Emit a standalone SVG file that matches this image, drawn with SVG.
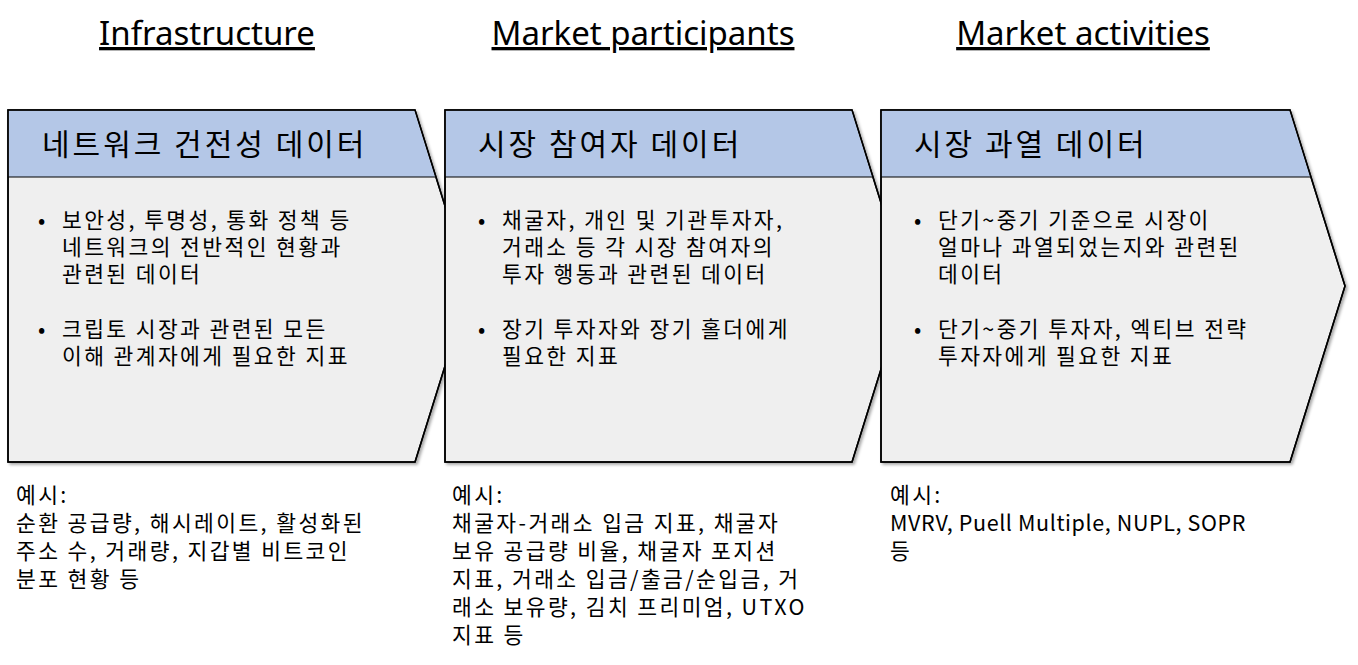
<svg xmlns="http://www.w3.org/2000/svg" width="1358" height="665" viewBox="0 0 1358 665">
<style>
.t{font-family:"Noto Sans CJK KR","Liberation Sans",sans-serif;fill:#000}
.title{font-size:33px;text-decoration:underline;text-anchor:middle;font-family:"Noto Sans","Noto Sans CJK KR",sans-serif}
.h{font-size:30px;letter-spacing:3px}
.b{font-size:21.5px;letter-spacing:2.4px}
.lat{letter-spacing:0.6px}
.body{fill:#efefef;stroke:#000;stroke-width:1.5}
.head{fill:#b4c7e7}
</style>
<defs><filter id="sh" x="-5%" y="-5%" width="115%" height="115%"><feDropShadow dx="2" dy="2" stdDeviation="1.5" flood-opacity="0.35"/></filter></defs>
<text class="t title" x="207" y="45">Infrastructure</text>
<text class="t title" x="643" y="45">Market participants</text>
<text class="t title" x="1083" y="45">Market activities</text>
<g id="n1">
<path class="body" filter="url(#sh)" d="M8,110H415L470,286L415,462H8Z"/>
<path class="head" d="M8.8,110.8H414.4L435,177H8.8Z"/>
<line x1="8" y1="177" x2="435" y2="177" stroke="#000" stroke-width="1"/>
<path d="M8,110H415L470,286L415,462H8Z" fill="none" stroke="#000" stroke-width="1.5"/>
<text class="t h" x="42" y="155">네트워크 건전성 데이터</text>
<g class="t b"><text x="38" y="228">•</text><text x="62" y="228">보안성, 투명성, 통화 정책 등</text><text x="62" y="255">네트워크의 전반적인 현황과</text><text x="62" y="282">관련된 데이터</text>
<text x="38" y="337">•</text><text x="62" y="337">크립토 시장과 관련된 모든</text><text x="62" y="364">이해 관계자에게 필요한 지표</text></g>
</g>
<g id="n2">
<path class="body" filter="url(#sh)" d="M445,110H852L907,286L852,462H445Z"/>
<path class="head" d="M445.8,110.8H851.4L872,177H445.8Z"/>
<line x1="445" y1="177" x2="872" y2="177" stroke="#000" stroke-width="1"/>
<path d="M445,110H852L907,286L852,462H445Z" fill="none" stroke="#000" stroke-width="1.5"/>
<text class="t h" x="478" y="155">시장 참여자 데이터</text>
<g class="t b"><text x="478" y="228">•</text><text x="502" y="228">채굴자, 개인 및 기관투자자,</text><text x="502" y="255">거래소 등 각 시장 참여자의</text><text x="502" y="282">투자 행동과 관련된 데이터</text>
<text x="478" y="337">•</text><text x="502" y="337">장기 투자자와 장기 홀더에게</text><text x="502" y="364">필요한 지표</text></g>
</g>
<g id="n3">
<path class="body" filter="url(#sh)" d="M881,110H1290L1345,286L1290,462H881Z"/>
<path class="head" d="M881.8,110.8H1289.4L1310,177H881.8Z"/>
<line x1="881" y1="177" x2="1310" y2="177" stroke="#000" stroke-width="1"/>
<path d="M881,110H1290L1345,286L1290,462H881Z" fill="none" stroke="#000" stroke-width="1.5"/>
<text class="t h" x="914" y="155">시장 과열 데이터</text>
<g class="t b"><text x="914" y="228">•</text><text x="938" y="228">단기~중기 기준으로 시장이</text><text x="938" y="255">얼마나 과열되었는지와 관련된</text><text x="938" y="282">데이터</text>
<text x="914" y="337">•</text><text x="938" y="337">단기~중기 투자자, 엑티브 전략</text><text x="938" y="364">투자자에게 필요한 지표</text></g>
</g>
<g class="t b">
<text x="16" y="503">예시:</text><text x="16" y="531">순환 공급량, 해시레이트, 활성화된</text><text x="16" y="559">주소 수, 거래량, 지갑별 비트코인</text><text x="16" y="587">분포 현황 등</text>
<text x="452" y="503">예시:</text><text x="452" y="531">채굴자-거래소 입금 지표, 채굴자</text><text x="452" y="559">보유 공급량 비율, 채굴자 포지션</text><text x="452" y="587">지표, 거래소 입금/출금/순입금, 거</text><text x="452" y="615">래소 보유량, 김치 프리미엄, UTXO</text><text x="452" y="643">지표 등</text>
<text x="890" y="503">예시:</text><text class="lat" x="890" y="531">MVRV, Puell Multiple, NUPL, SOPR</text><text x="890" y="559">등</text>
</g>
</svg>
